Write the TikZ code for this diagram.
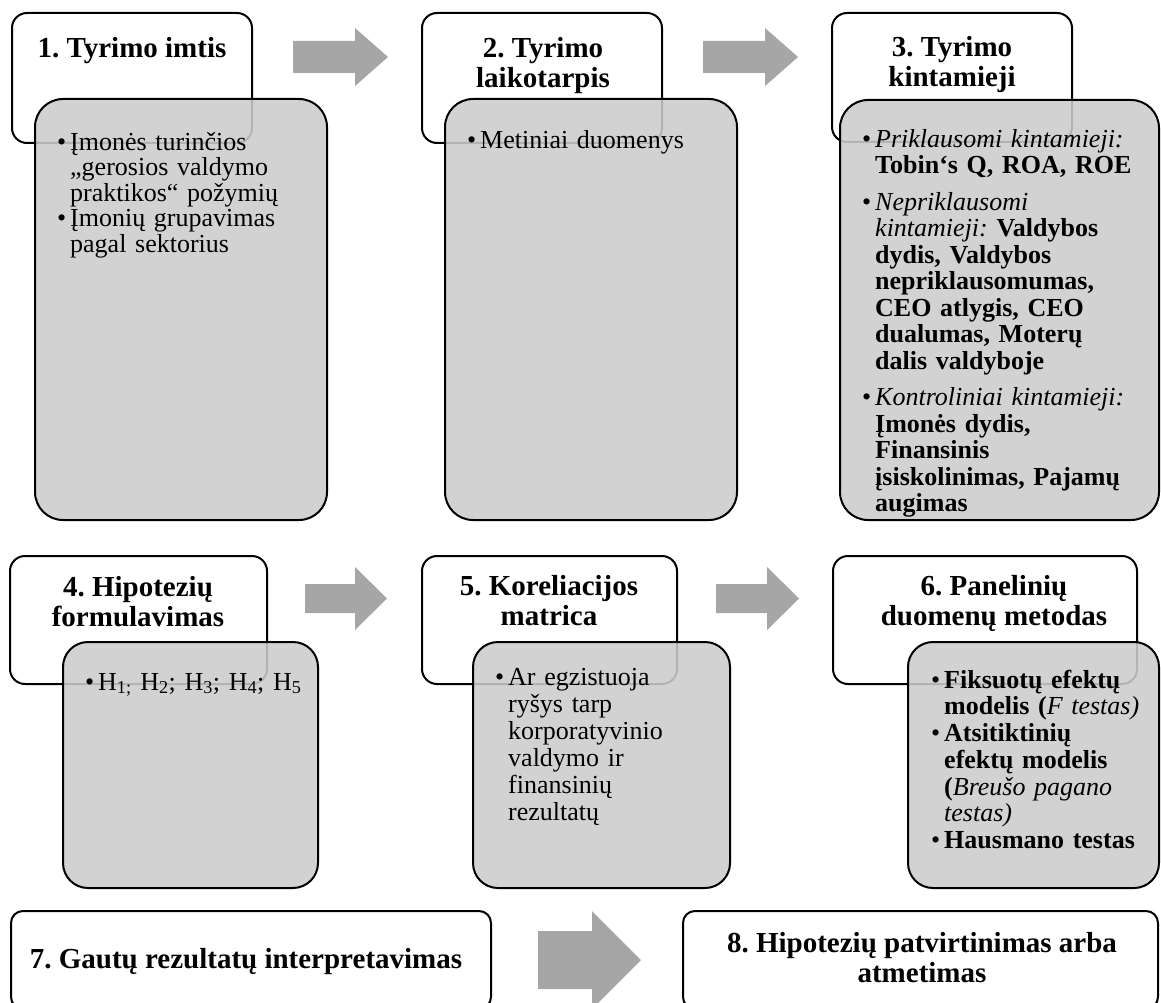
\documentclass[tikz,border=0pt]{standalone}
\usepackage{fontspec}
\setmainfont{Liberation Serif}
\setlength{\parindent}{0pt}
\frenchspacing
\definecolor{grayfill}{RGB}{204,204,204}
\definecolor{arrowgray}{RGB}{166,166,166}
\newcommand{\bul}{\makebox[13pt][l]{•}}
\newcommand{\ind}{\hspace*{13pt}}
\newcommand{\tstrut}{\rule{0pt}{22pt}}
\newcommand{\hstrut}{\rule{0pt}{24pt}}
\begin{document}
\begin{tikzpicture}[x=1pt,y=-1pt,
  wbox/.style={draw=black, line width=2pt, fill=white, rounded corners=15pt, anchor=north west, inner sep=0pt, outer sep=0pt},
  gbox/.style={draw=black, line width=2pt, fill=grayfill, fill opacity=0.88, draw opacity=1, rounded corners=28pt, anchor=north west, inner sep=0pt, outer sep=0pt},
  title/.style={font=\fontsize{29}{30}\selectfont\bfseries, align=center, anchor=north, inner sep=0pt},
  body/.style={text width=300pt, align=left, anchor=north west, inner sep=0pt},
  blockarrow/.style={fill=arrowgray, draw=none}]
\useasboundingbox (0,0) rectangle (1161,1003);
\begin{scope}
\clip (0,0) rectangle (1161,1003);
% ---------- row 1 ----------
\node[wbox, minimum width=240pt, minimum height=130pt] (w1) at (12,13) {};
\node[wbox, minimum width=240pt, minimum height=130pt] (w2) at (422,13) {};
\node[wbox, minimum width=240pt, minimum height=129pt] (w3) at (832,13) {};
\node[gbox, minimum width=292pt, minimum height=421pt] (g1) at (35,99) {};
\node[gbox, minimum width=292pt, minimum height=421pt] (g2) at (445,99) {};
\node[gbox, minimum width=319pt, minimum height=420pt] (g3) at (840,100) {};
\fill[blockarrow] (293,41) -- (355,41) -- (355,28) -- (388,57) -- (355,86) -- (355,73) -- (293,73) -- cycle;
\fill[blockarrow] (703,41) -- (765,41) -- (765,28) -- (798,57) -- (765,86) -- (765,73) -- (703,73) -- cycle;
% ---------- row 2 ----------
\node[wbox, minimum width=257pt, minimum height=128pt] (w4) at (10,556) {};
\node[wbox, minimum width=255pt, minimum height=128pt] (w5) at (422,556) {};
\node[wbox, minimum width=304pt, minimum height=128pt] (w6) at (833,556) {};
\node[gbox, rounded corners=25pt, minimum width=255pt, minimum height=246pt] (g4) at (63,642) {};
\node[gbox, rounded corners=25pt, minimum width=257pt, minimum height=246pt] (g5) at (473,642) {};
\node[gbox, rounded corners=25pt, minimum width=251pt, minimum height=246pt] (g6) at (908,642) {};
\fill[blockarrow] (305,584) -- (355,584) -- (355,567) -- (387,598.5) -- (355,630) -- (355,613) -- (305,613) -- cycle;
\fill[blockarrow] (716,584) -- (767,584) -- (767,567) -- (799,598.5) -- (767,630) -- (767,613) -- (716,613) -- cycle;
% ---------- row 3 ----------
\node[wbox, rounded corners=12pt, minimum width=480pt, minimum height=98pt] (w7) at (11,911) {};
\node[wbox, rounded corners=12pt, minimum width=475pt, minimum height=98pt] (w8) at (683,911) {};
\fill[blockarrow] (538,931) -- (592,931) -- (592,911) -- (641,960) -- (592,1009) -- (592,989) -- (538,989) -- cycle;
% ---------- titles ----------
\node[title] (t1) at (132,33) {\hstrut 1. Tyrimo imtis};
\node[title] (t2) at (543,33) {\hstrut 2. Tyrimo\\laikotarpis};
\node[title] (t3) at (952,32) {\hstrut 3. Tyrimo\\kintamieji};
\node[title] (t4) at (138,572) {\hstrut 4. Hipotezių\\formulavimas};
\node[title] (t5) at (549,571) {\hstrut 5. Koreliacijos\\matrica};
\node[title] (t6) at (994,571) {\hstrut 6. Panelinių\\duomenų metodas};
\node[title] (t7) at (246,944) {\hstrut 7. Gautų rezultatų interpretavimas};
\node[title] (t8) at (922,928) {\hstrut 8. Hipotezių patvirtinimas arba\\atmetimas};
% ---------- bullet texts ----------
\node[body, font=\fontsize{26}{25.5}\selectfont] (b1) at (57,128) {\tstrut\bul Įmonės turinčios\\
\ind „gerosios valdymo\\
\ind praktikos“ požymių\\
\bul Įmonių grupavimas\\
\ind pagal sektorius};
\node[body, font=\fontsize{26}{26}\selectfont] (b2) at (467,126) {\tstrut\bul Metiniai duomenys};
\node[body, font=\fontsize{26}{26.5}\selectfont] (b3) at (862,125) {\tstrut\bul \textit{Priklausomi kintamieji:}\\
\ind\textbf{Tobin‘s Q, ROA, ROE}\\[10pt]
\bul \textit{Nepriklausomi}\\
\ind\textit{kintamieji:} \textbf{Valdybos}\\
\ind\textbf{dydis, Valdybos}\\
\ind\textbf{nepriklausomumas,}\\
\ind\textbf{CEO atlygis, CEO}\\
\ind\textbf{dualumas, Moterų}\\
\ind\textbf{dalis valdyboje}\\[10pt]
\bul \textit{Kontroliniai kintamieji:}\\
\ind\textbf{Įmonės dydis,}\\
\ind\textbf{Finansinis}\\
\ind\textbf{įsiskolinimas, Pajamų}\\
\ind\textbf{augimas}};
\node[body, font=\fontsize{26}{26}\selectfont] (b4) at (85,668) {\tstrut\bul H\textsubscript{1;} H\textsubscript{2}; H\textsubscript{3}; H\textsubscript{4}; H\textsubscript{5}};
\node[body, font=\fontsize{26}{27}\selectfont] (b5) at (495,663) {\tstrut\bul Ar egzistuoja\\
\ind ryšys tarp\\
\ind korporatyvinio\\
\ind valdymo ir\\
\ind finansinių\\
\ind rezultatų};
\node[body, font=\fontsize{26}{26.7}\selectfont] (b6) at (931,666) {\tstrut\bul \textbf{Fiksuotų efektų}\\
\ind\textbf{modelis (}\textit{F testas)}\\
\bul \textbf{Atsitiktinių}\\
\ind\textbf{efektų modelis}\\
\ind\textbf{(}\textit{Breušo pagano}\\
\ind\textit{testas)}\\
\bul \textbf{Hausmano testas}};
\end{scope}
\end{tikzpicture}
\end{document}
